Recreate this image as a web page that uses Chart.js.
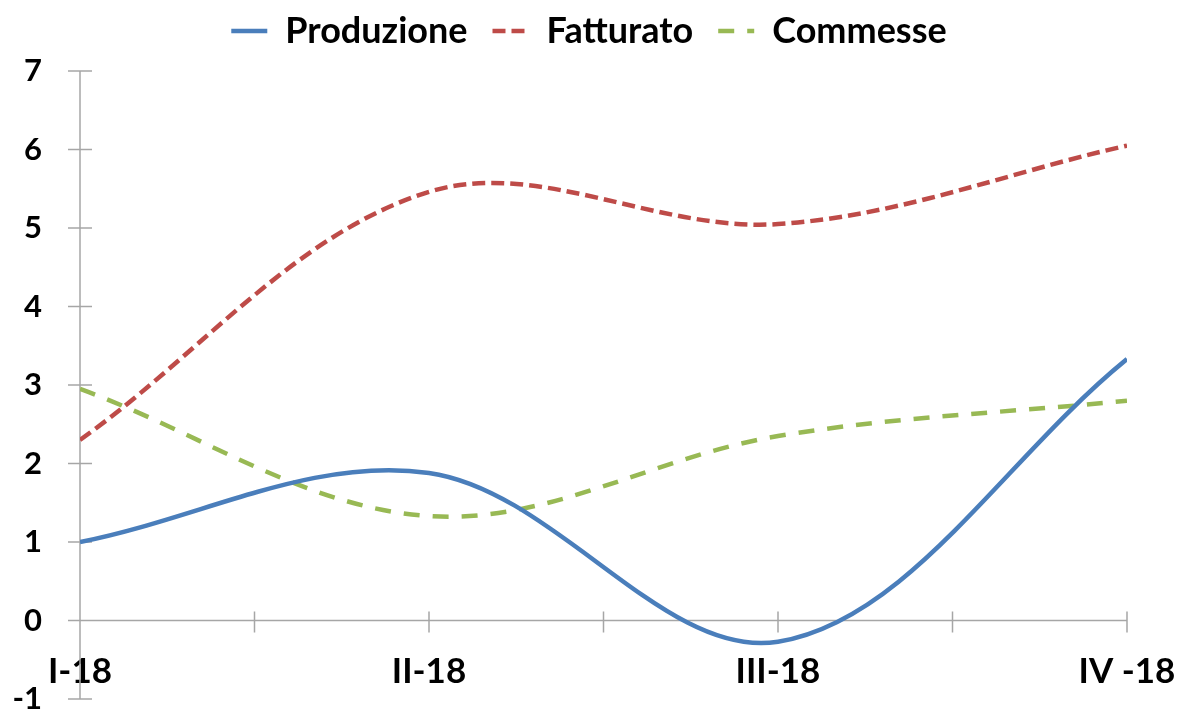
<!DOCTYPE html>
<html>
<head>
<meta charset="utf-8">
<script src="https://cdn.jsdelivr.net/npm/chart.js@4"></script>
<style>
  html, body { margin: 0; padding: 0; background: #fff; }
  #wrap { width: 1178px; height: 711px; }
</style>
</head>
<body>
<div id="wrap"><canvas id="myChart"></canvas></div>
<script>
const quarters = ["I-18", "II-18", "III-18", "IV -18"];
const produzione = [1.0, 1.88, -0.27, 3.33];
const fatturato = [2.3, 5.46, 5.05, 6.05];
const commesse = [2.95, 1.33, 2.35, 2.8];
const yTicks = [-1, 0, 1, 2, 3, 4, 5, 6, 7];

const toPoints = (values) => values.map((v, i) => ({ x: i, y: v }));

// axis lines with cross tick marks, like the Excel original
const axisMarks = {
  id: "axisMarks",
  beforeDatasetsDraw(chart) {
    const { ctx, scales: { x, y } } = chart;
    const y0 = y.getPixelForValue(0);
    ctx.save();
    ctx.strokeStyle = "#a6a6a6";
    ctx.lineWidth = 1.5;
    ctx.beginPath();
    ctx.moveTo(x.left, y.top);
    ctx.lineTo(x.left, y.bottom);
    y.ticks.forEach(t => {
      const py = y.getPixelForValue(t.value);
      ctx.moveTo(x.left - 12, py);
      ctx.lineTo(x.left + 12, py);
    });
    ctx.moveTo(x.left - 12, y0);
    ctx.lineTo(x.right, y0);
    x.ticks.forEach(t => {
      const px = x.getPixelForValue(t.value);
      ctx.moveTo(px, y0 - 9);
      ctx.lineTo(px, y0 + 12);
    });
    ctx.stroke();
    ctx.restore();
  }
};

// legend sits a bit higher above the plot than chart.js puts it
const legendLift = {
  id: "legendLift",
  afterLayout(chart) {
    chart.legend.top -= 12;
    chart.legend.bottom -= 12;
  }
};

const legendLabels = (chart) => chart.data.datasets.map((ds, i) => ({
  text: ds.label,
  strokeStyle: ds.borderColor,
  fillStyle: ds.borderColor,
  lineWidth: 4.5,
  lineDash: ds.borderDash || [],
  pointStyle: "line",
  fontColor: "#000",
  datasetIndex: i
}));

const ctx = document.getElementById("myChart").getContext("2d");
const myChart = new Chart(ctx, {
  type: "line",
  data: {
    datasets: [
      { label: "Produzione", data: toPoints(produzione), borderColor: "#4a7ebb" },
      { label: "Fatturato", data: toPoints(fatturato), borderColor: "#be4b48", borderDash: [13, 6] },
      { label: "Commesse", data: toPoints(commesse), borderColor: "#98b954", borderDash: [16, 13] }
    ]
  },
  options: {
    responsive: true,
    maintainAspectRatio: false,
    animation: false,
    layout: { padding: { top: 0, right: 0, bottom: 12, left: 0 } },
    elements: {
      line: { borderWidth: 4.5, tension: 0.35, fill: false },
      point: { radius: 0, hoverRadius: 0 }
    },
    plugins: {
      tooltip: { enabled: false },
      legend: {
        position: "top",
        labels: {
          color: "#000",
          font: { family: "Lato", size: 36, weight: "bold" },
          usePointStyle: true,
          pointStyleWidth: 36,
          padding: 25,
          generateLabels: legendLabels
        }
      }
    },
    scales: {
      x: {
        type: "linear",
        min: 0,
        max: quarters.length - 1,
        position: { y: 0 },
        grid: { display: false },
        border: { display: false },
        afterFit: (scale) => { scale.height = 0; scale.paddingLeft = 0; scale.paddingRight = 51; },
        ticks: {
          stepSize: 0.5,
          autoSkip: false,
          maxRotation: 0,
          padding: 22,
          color: "#000",
          font: { family: "Lato", size: 35, weight: "bold" },
          callback: (v) => Number.isInteger(v) ? quarters[v] : ""
        }
      },
      y: {
        min: yTicks[0],
        max: yTicks[yTicks.length - 1],
        grid: { display: false, drawTicks: false },
        border: { display: false },
        afterFit: (scale) => { scale.width = 80; scale.paddingTop = 68; scale.paddingBottom = 0; },
        ticks: {
          stepSize: 1,
          padding: 38,
          color: "#000",
          font: { family: "Lato", size: 31, weight: "bold" }
        }
      }
    }
  },
  plugins: [axisMarks, legendLift]
});
</script>
</body>
</html>
